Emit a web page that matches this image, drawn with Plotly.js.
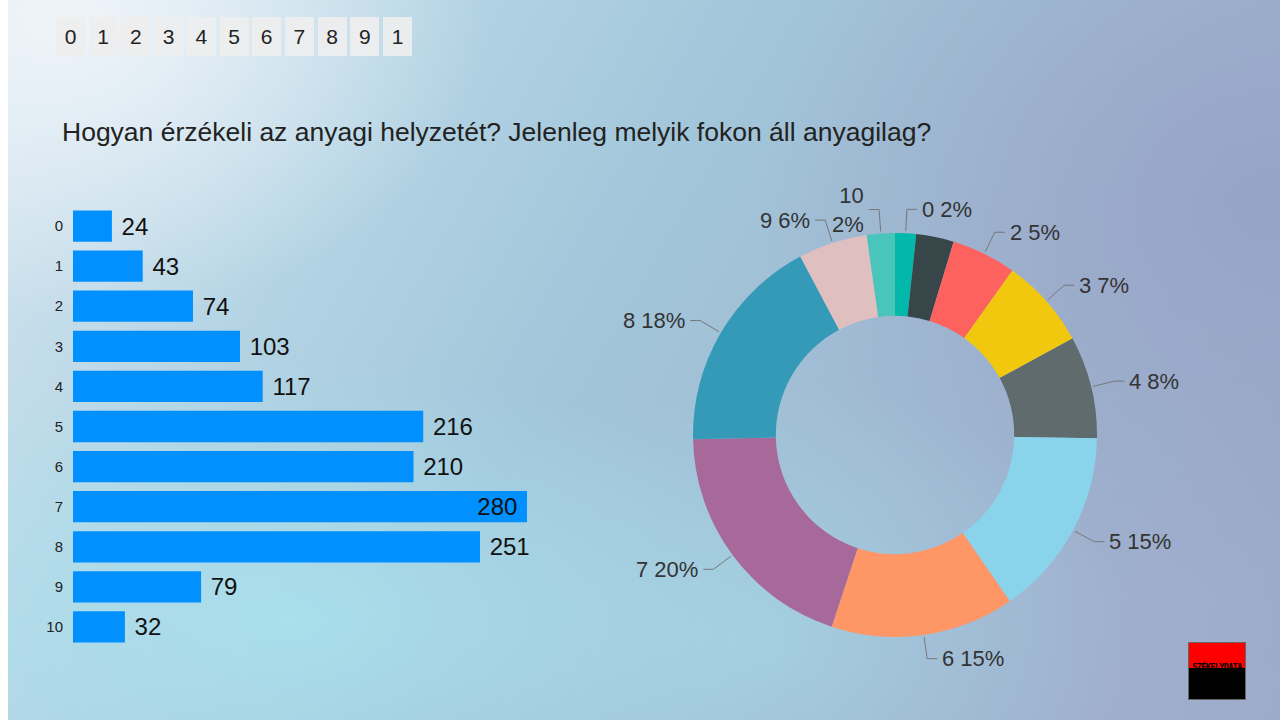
<!DOCTYPE html>
<html>
<head>
<meta charset="utf-8">
<script src="https://cdn.plot.ly/plotly-3.0.1.min.js"></script>
<style>
  html, body { margin:0; padding:0; width:1280px; height:720px; overflow:hidden; background:#fff; }
  #bg { position:absolute; left:8px; top:0; width:1272px; height:720px;
    background:
      radial-gradient(ellipse 420px 300px at 60px 20px, rgba(240,245,250,0.95), rgba(240,245,250,0) 100%),
      radial-gradient(ellipse 520px 260px at 280px 620px, rgba(170,226,238,0.85), rgba(170,226,238,0) 100%),
      radial-gradient(ellipse 360px 260px at 760px 640px, rgba(165,215,230,0.7), rgba(165,215,230,0) 100%),
      radial-gradient(ellipse 500px 400px at 1250px 200px, rgba(150,160,196,0.8), rgba(150,160,196,0) 100%),
      radial-gradient(ellipse 400px 250px at 1100px 700px, rgba(160,175,205,0.7), rgba(160,175,205,0) 100%),
      linear-gradient(120deg, #d6e6f0 0%, #b4d4e4 25%, #a2c6da 45%, #a0b8d2 70%, #9ca8c8 100%);
  }
  #plot { position:absolute; left:0; top:0; width:1280px; height:720px; }
  #slicer { position:absolute; left:56px; top:17px; height:39px; }
  .box { position:absolute; top:0; width:29px; height:39px; background:rgba(238,238,238,0.92);
    font-family: Arial, "Liberation Sans", sans-serif; font-size:21px; color:#222;
    text-align:center; line-height:39px; overflow:hidden; }
  #logo { position:absolute; left:1188px; top:642px; width:56px; height:56px; border:1px solid #666;
    background: linear-gradient(180deg, #ff0000 0%, #ff0000 45%, #000 45%, #000 100%); }
  #logo span { position:absolute; left:0; top:19px; width:56px; text-align:center;
    font-family: "DejaVu Sans Mono", monospace; font-weight:bold; font-size:8.5px; color:#000; letter-spacing:-0.6px; }
</style>
</head>
<body>
<div id="bg"></div>
<div id="plot"></div>
<div id="slicer"></div>
<div id="logo"><span>SZÉKELYDATA</span></div>
<script>
// ---- data ----
const categories = ['0','1','2','3','4','5','6','7','8','9','10'];
const counts = [24, 43, 74, 103, 117, 216, 210, 280, 251, 79, 32];
const sliceColors = ['#01B8AA','#374649','#FD625E','#F2C80F','#5F6B6D','#8AD4EB','#FE9666','#A66999','#3599B8','#DFBFBF','#4AC5BB'];
const titleText = 'Hogyan érzékeli az anyagi helyzetét? Jelenleg melyik fokon áll anyagilag?';
const hiddenPieLabels = ['1'];
const wrappedPieLabels = ['10'];

// ---- slicer boxes ----
const slicer = document.getElementById('slicer');
categories.forEach((c, i) => {
  const d = document.createElement('div');
  d.className = 'box';
  d.style.left = (i * 32.7) + 'px';
  d.textContent = c.length > 1 ? c.charAt(0) : c;
  slicer.appendChild(d);
});

// ---- layout geometry ----
const W = 1280, H = 720;
const FONT = 'Arial, "Liberation Sans", sans-serif';
const cx = 895, cy = 435, R = 202;
const px = x => x / W, py = y => 1 - y / H;

const maxIdx = counts.indexOf(Math.max(...counts));
const barPos = counts.map((v, i) => i === maxIdx ? 'inside' : 'outside');
const barText = counts.map((v, i) => i === maxIdx ? v + '\u00a0' : '\u00a0' + v);

const barTrace = {
  type: 'bar', orientation: 'h',
  y: categories, x: counts,
  marker: { color: '#0090FF' },
  text: barText, textposition: barPos,
  insidetextanchor: 'end', constraintext: 'none', cliponaxis: false,
  textfont: { family: FONT, size: 24, color: '#111' },
  insidetextfont: { family: FONT, size: 24, color: '#111' },
  outsidetextfont: { family: FONT, size: 24, color: '#111' },
  hoverinfo: 'skip', showlegend: false
};

const pieTrace = {
  type: 'pie', labels: categories, values: counts, sort: false, direction: 'clockwise',
  rotation: 0, hole: 0.59, textinfo: 'none', showlegend: false, hoverinfo: 'skip',
  marker: { colors: sliceColors, line: { width: 0 } },
  domain: { x: [px(cx - R), px(cx + R)], y: [py(cy + R), py(cy - R)] }
};

// ---- pie labels with leader lines computed from the values ----
const total = counts.reduce((a, b) => a + b, 0);
const annotations = [];
const shapes = [];
let cum = 0;
counts.forEach((v, i) => {
  const th = 2 * Math.PI * (cum + v / 2) / total;
  cum += v;
  if (hiddenPieLabels.includes(categories[i])) return;
  const ux = Math.sin(th), uy = -Math.cos(th);
  const side = ux >= 0 ? 1 : -1;
  const x0 = cx + (R + 2) * ux, y0 = cy + (R + 2) * uy;
  const x1 = cx + (R + 24) * ux, y1 = cy + (R + 24) * uy;
  const x2 = x1 + side * 10;
  shapes.push({ type: 'path', xref: 'paper', yref: 'paper',
    path: `M ${px(x0)} ${py(y0)} L ${px(x1)} ${py(y1)} L ${px(x2)} ${py(y1)}`,
    line: { color: '#777', width: 1 } });
  const pct = Math.round(v / total * 100) + '%';
  const txt = wrappedPieLabels.includes(categories[i]) ? categories[i] + '<br>' + pct : categories[i] + ' ' + pct;
  annotations.push({ xref: 'paper', yref: 'paper', x: px(x2 + side * 3), y: py(y1),
    xanchor: side > 0 ? 'left' : 'right', yanchor: 'middle', align: side > 0 ? 'left' : 'right',
    text: txt, showarrow: false, font: { family: FONT, size: 22, color: '#333' } });
});

const layout = {
  width: W, height: H, margin: { l: 0, r: 0, t: 0, b: 0 },
  paper_bgcolor: 'rgba(0,0,0,0)', plot_bgcolor: 'rgba(0,0,0,0)',
  title: { text: titleText, x: px(62), xanchor: 'left', xref: 'paper', y: py(132), yanchor: 'middle', yref: 'paper',
    font: { family: FONT, size: 26.5, color: '#222' } },
  xaxis: { domain: [px(73), px(527)], range: [0, Math.max(...counts)], visible: false, fixedrange: true },
  yaxis: { domain: [py(647), py(206)], type: 'category', autorange: 'reversed', showgrid: false, zeroline: false,
    showline: false, ticks: '', ticklabelstandoff: 9, tickfont: { family: FONT, size: 15, color: '#222' }, fixedrange: true },
  bargap: 0.22,
  annotations: annotations,
  shapes: shapes
};

Plotly.newPlot('plot', [barTrace, pieTrace], layout, { displayModeBar: false, staticPlot: true });
</script>
</body>
</html>
